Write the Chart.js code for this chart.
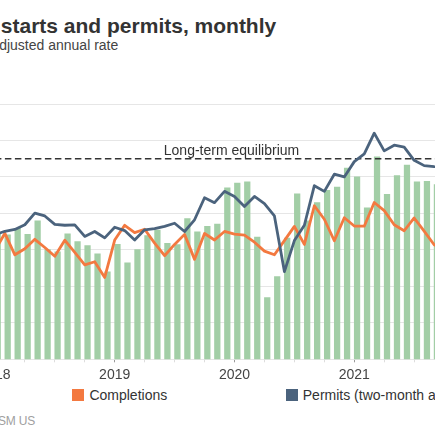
<!DOCTYPE html>
<html>
<head>
<meta charset="utf-8">
<title>Housing starts and permits, monthly</title>
<script src="https://cdn.jsdelivr.net/npm/chart.js@4.4.1/dist/chart.umd.min.js"></script>
<style>
  html, body { margin: 0; padding: 0; width: 435px; height: 435px; overflow: hidden; background: #fff; }
  body { position: relative; font-family: 'Liberation Sans', Arial, sans-serif; color: #333; }
  #frame { position: absolute; left: -88px; top: 0; width: 600px; height: 435px; }
  .title { position: absolute; left: -1px; top: 14.5px; font-size: 21px; line-height: 21px; font-weight: bold; color: #333; white-space: nowrap; }
  .subtitle { position: absolute; left: 7px; top: 37.5px; font-size: 14px; line-height: 14px; color: #444; white-space: nowrap; }
  #chartBox { position: absolute; left: 0; top: 60px; width: 600px; height: 325px; }
  #legend { position: absolute; left: -53px; top: 388px; display: flex; font-size: 14px; line-height: 14px; color: #333; }
  #legend .item { width: 213.4px; display: flex; align-items: center; white-space: nowrap; }
  #legend .swatch { width: 12px; height: 12px; margin-right: 5px; flex: none; }
  .source { position: absolute; right: 477px; top: 414.5px; font-size: 12px; line-height: 12px; letter-spacing: -0.2px; color: #a0a0a0; white-space: nowrap; }
</style>
</head>
<body>
<div id="frame">
  <div class="title">Housing starts and permits, monthly</div>
  <div class="subtitle">Seasonally adjusted annual rate</div>
  <div id="chartBox"><canvas id="housingChart"></canvas></div>
  <div id="legend"></div>
  <div class="source">Source: Census Bureau, RSM US</div>
</div>

<script>
// x positions are months counted from Jan 2018 (0 = Jan 2018)
const YEARS = ['2018', '2019', '2020', '2021'];

// thousands of units, seasonally adjusted annual rate, Jan 2018 onwards
const STARTS = [
  1294, 1283, 1318, 1285, 1360, 1201, 1190, 1288, 1246, 1223, 1179, 1080,
  1230, 1129, 1201, 1279, 1309, 1236, 1229, 1372, 1299, 1329, 1342, 1540,
  1567, 1573, 1270,  938, 1054, 1265, 1508, 1360, 1460, 1526, 1544, 1649,
  1600, 1431, 1710, 1505, 1608, 1665, 1573, 1576, 1558, 1530
];
const COMPLETIONS = [
  1195, 1291, 1173, 1206, 1258, 1213, 1165, 1253, 1186, 1118, 1135, 1049,
  1254, 1335, 1295, 1313, 1237, 1168, 1230, 1285, 1148, 1290, 1254, 1301,
  1287, 1281, 1242, 1193, 1173, 1251, 1329, 1230, 1442, 1368, 1250, 1376,
  1331, 1330, 1460, 1415, 1338, 1305, 1375, 1303, 1228, 1200
];
const PERMITS = [
  1283, 1302, 1312, 1338, 1402, 1386, 1340, 1335, 1337, 1274, 1301, 1266,
  1324, 1306, 1254, 1310, 1316, 1329, 1346, 1301, 1365, 1486, 1459, 1521,
  1493, 1438, 1493, 1454, 1386, 1081, 1251, 1335, 1552, 1521, 1615, 1600,
  1684, 1726, 1840, 1743, 1774, 1764, 1691, 1662, 1657, 1655
];
const EQUILIBRIUM = 1700;
const EQ_LABEL = 'Long-term equilibrium';

const X_MAX = 46;
const GREEN  = 'rgb(162,206,166)';
const ORANGE = 'rgb(243,121,64)';
const SLATE  = 'rgb(75,99,125)';

// month index -> {x, y}; bars sit at the start of their month
const toPoints = (vals, shift) => vals.map((v, i) => ({ x: i + shift, y: v }));

Chart.defaults.font.family = "'Liberation Sans', Arial, sans-serif";
Chart.defaults.color = '#444';

// text above the dashed equilibrium line
const eqLabel = {
  id: 'eqLabel',
  afterDatasetsDraw(chart) {
    const { ctx, scales: { x, y } } = chart;
    ctx.save();
    ctx.font = "14px 'Liberation Sans', Arial, sans-serif";
    ctx.fillStyle = '#333';
    ctx.textAlign = 'center';
    ctx.textBaseline = 'alphabetic';
    ctx.fillText(EQ_LABEL, x.getPixelForValue(23.7), y.getPixelForValue(EQUILIBRIUM) - 3.5);
    ctx.restore();
  }
};

const chart = new Chart(document.getElementById('housingChart'), {
  type: 'bar',
  data: {
    datasets: [
      {
        label: 'Starts',
        data: toPoints(STARTS, 0.28),
        backgroundColor: GREEN,
        borderWidth: 0,
        barThickness: 5.6,
        order: 4
      },
      {
        type: 'line',
        label: 'Completions',
        data: toPoints(COMPLETIONS, 0),
        borderColor: ORANGE,
        backgroundColor: ORANGE,
        borderWidth: 2.8,
        borderJoinStyle: 'round',
        pointRadius: 0,
        tension: 0,
        order: 2
      },
      {
        type: 'line',
        label: 'Permits (two-month average)',
        data: toPoints(PERMITS, 0),
        borderColor: SLATE,
        backgroundColor: SLATE,
        borderWidth: 2.8,
        borderJoinStyle: 'round',
        pointRadius: 0,
        tension: 0,
        order: 1
      },
      {
        type: 'line',
        label: EQ_LABEL,
        data: [{ x: 0, y: EQUILIBRIUM }, { x: X_MAX, y: EQUILIBRIUM }],
        borderColor: '#333',
        borderWidth: 1.6,
        borderDash: [6.5, 3.5],
        pointRadius: 0,
        order: 3,
        inLegend: false
      }
    ]
  },
  options: {
    responsive: true,
    maintainAspectRatio: false,
    animation: false,
    layout: { padding: { top: 44, right: 57.9, bottom: 0, left: 0 } },
    plugins: {
      legend: { display: false },
      tooltip: { enabled: false }
    },
    scales: {
      x: {
        type: 'linear',
        min: 0,
        max: X_MAX,
        offset: false,
        grid: {
          offset: false,
          drawOnChartArea: false,
          tickLength: 3,
          tickWidth: 1,
          tickColor: c => (c.tick && c.tick.value % 12 === 0) ? '#999' : '#ddd'
        },
        border: { display: false },
        ticks: {
          stepSize: 3,
          autoSkip: false,
          maxRotation: 0,
          padding: 4,
          font: { size: 14 },
          color: '#444',
          callback: v => (v % 12 === 0 ? YEARS[v / 12] : '')
        },
        afterFit: s => { s.height = 25.7; }
      },
      y: {
        min: 600,
        max: 2000,
        grid: { color: '#e6e6e6', lineWidth: 1, drawTicks: false },
        border: { display: false },
        ticks: { stepSize: 200, font: { size: 14 }, color: '#444' },
        afterFit: s => { s.width = 82.9; }
      }
    }
  },
  plugins: [eqLabel]
});

// html legend built from the datasets
const legend = document.getElementById('legend');
chart.data.datasets.filter(d => d.inLegend !== false).forEach(d => {
  const item = document.createElement('div');
  item.className = 'item';
  item.innerHTML = `<span class="swatch" style="background:${d.backgroundColor}"></span><span>${d.label}</span>`;
  legend.appendChild(item);
});
</script>
</body>
</html>
